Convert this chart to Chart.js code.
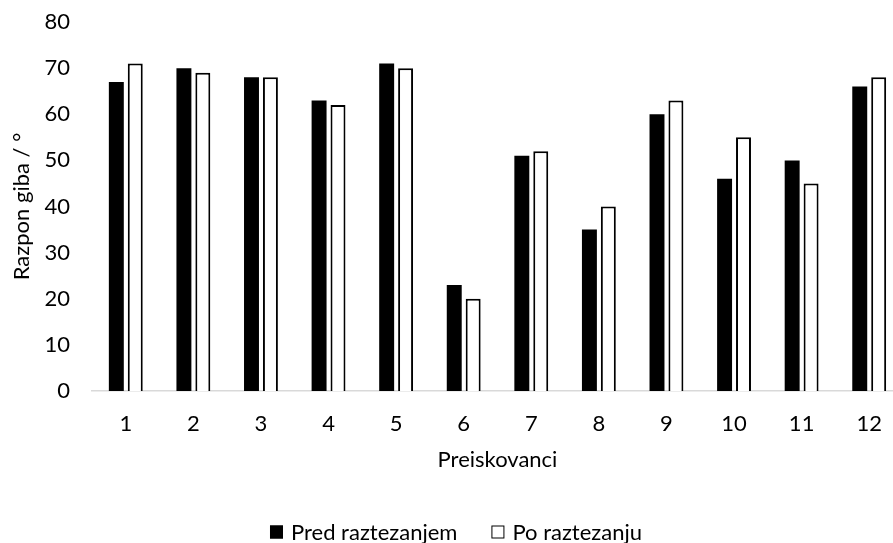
<!DOCTYPE html>
<html>
<head>
<meta charset="utf-8">
<script src="https://cdn.jsdelivr.net/npm/chart.js@4/dist/chart.umd.min.js"></script>
<style>
  html, body { margin: 0; padding: 0; background: #fff; overflow: hidden; }
  #wrap { position: relative; width: 912px; height: 543px; }
</style>
</head>
<body>
<div id="wrap"><canvas id="c" width="912" height="543"></canvas></div>
<script>
const categories = ['1','2','3','4','5','6','7','8','9','10','11','12'];
const predValues = [67, 70, 68, 63, 71, 23, 51, 35, 60, 46, 50, 66];
const poValues   = [71, 69, 68, 62, 70, 20, 52, 40, 63, 55, 45, 68];
const seriesNames = ['Pred raztezanjem', 'Po raztezanju'];
const yTitle = 'Razpon giba / °';
const xTitle = 'Preiskovanci';

const FONT = 'Lato, "Open Sans", sans-serif';
const FS = 22;

const bottomLegend = {
  id: 'bottomLegend',
  afterDraw(chart) {
    const ctx = chart.ctx;
    const box = 13, gap = 8, itemGap = 34;
    ctx.save();
    ctx.font = FS + 'px ' + FONT;
    const items = chart.data.datasets.map(ds => ({ ds, w: ctx.measureText(ds.label).width }));
    let total = 0;
    items.forEach((it, i) => { total += box + gap + it.w + (i ? itemGap : 0); });
    let x = chart.width / 2 - total / 2;
    const cy = 532;
    ctx.textBaseline = 'middle';
    ctx.textAlign = 'left';
    items.forEach((it) => {
      ctx.fillStyle = it.ds.backgroundColor;
      ctx.fillRect(x, cy - box / 2, box, box);
      ctx.strokeStyle = '#000';
      ctx.lineWidth = 1;
      ctx.strokeRect(x + 0.5, cy - box / 2 + 0.5, box - 1, box - 1);
      ctx.fillStyle = '#000';
      ctx.fillText(it.ds.label, x + box + gap, cy + 1);
      x += box + gap + it.w + itemGap;
    });
    ctx.restore();
  }
};

new Chart(document.getElementById('c'), {
  type: 'bar',
  data: {
    labels: categories,
    datasets: [
      { label: seriesNames[0], data: predValues, backgroundColor: '#000', borderColor: '#000', borderWidth: 0,
        categoryPercentage: 0.56, barPercentage: 0.79 },
      { label: seriesNames[1], data: poValues, backgroundColor: '#fff', borderColor: '#000', borderWidth: 2,
        categoryPercentage: 0.56, barPercentage: 0.79 }
    ]
  },
  plugins: [bottomLegend],
  options: {
    responsive: false,
    animation: false,
    devicePixelRatio: 1,
    layout: { padding: { left: 0, right: 9, top: 22, bottom: 70 } },
    plugins: {
      tooltip: { enabled: false },
      legend: { display: false }
    },
    scales: {
      x: {
        grid: { display: false, drawTicks: false },
        border: { display: true, color: '#d9d9d9', width: 1.5 },
        ticks: { color: '#000', font: { family: FONT, size: FS }, padding: 20 },
        title: { display: true, text: xTitle, color: '#000', font: { family: FONT, size: FS }, padding: { top: 0, bottom: 0 } },
        afterFit(scale) { scale.height = 82; scale.paddingLeft = 0; scale.paddingRight = 0; }
      },
      y: {
        min: 0, max: 80,
        grid: { display: false, drawTicks: false },
        border: { display: false },
        ticks: { stepSize: 10, color: '#000', font: { family: FONT, size: FS }, padding: 22 },
        title: { display: true, text: yTitle, color: '#000', font: { family: FONT, size: FS }, padding: { top: 9, bottom: 0 } },
        afterFit(scale) { scale.width = 92; scale.paddingTop = 0; scale.paddingBottom = 0; }
      }
    }
  }
});
</script>
</body>
</html>
